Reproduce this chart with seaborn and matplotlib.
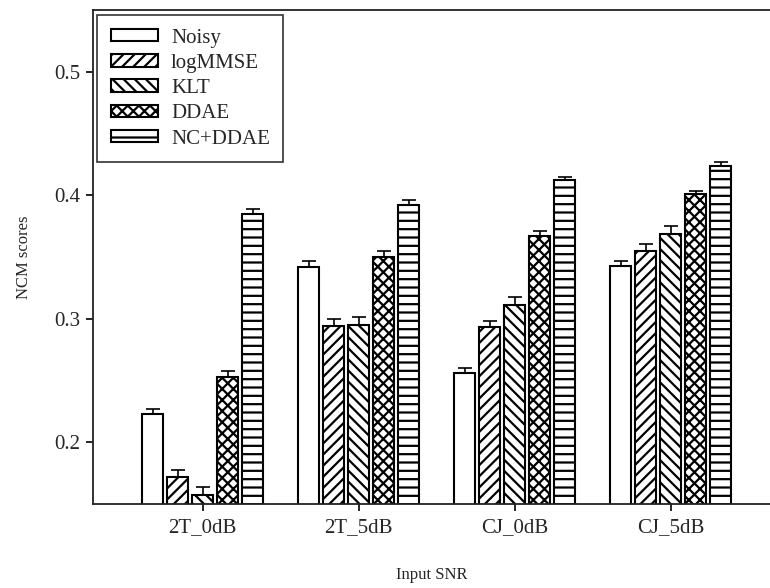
import numpy as np
import pandas as pd
import matplotlib
matplotlib.use("Agg")
import matplotlib.pyplot as plt
import seaborn as sns

# values
groups = ["2T_0dB", "2T_5dB", "CJ_0dB", "CJ_5dB"]
methods = ["Noisy", "logMMSE", "KLT", "DDAE", "NC+DDAE"]

noisy = [0.223, 0.342, 0.256, 0.343]
logmmse = [0.172, 0.294, 0.293, 0.355]
klt = [0.157, 0.295, 0.311, 0.369]
ddae = [0.253, 0.350, 0.367, 0.401]
nc_ddae = [0.385, 0.392, 0.412, 0.424]

noisy_err = [0.0043, 0.0048, 0.0038, 0.0038]
logmmse_err = [0.0054, 0.0060, 0.0054, 0.0057]
klt_err = [0.0065, 0.0068, 0.0067, 0.0062]
ddae_err = [0.0046, 0.0046, 0.0040, 0.0027]
nc_ddae_err = [0.0040, 0.0040, 0.0030, 0.0030]

hatches = ["", "///", "\\\\\\", "xxx", "--"]

rows = []
for m, vals, errs in zip(methods,
                         [noisy, logmmse, klt, ddae, nc_ddae],
                         [noisy_err, logmmse_err, klt_err, ddae_err, nc_ddae_err]):
    for g, v, e in zip(groups, vals, errs):
        rows.append({"snr": g, "method": m, "score": v, "err": e})
df = pd.DataFrame(rows)

sns.set_style("white")
plt.rcParams["font.family"] = ["Liberation Serif", "DejaVu Serif"]
plt.rcParams["hatch.linewidth"] = 1.6
plt.rcParams["hatch.color"] = "black"

fig = plt.figure(figsize=(7.7, 5.88), dpi=100)
ax = fig.add_axes([93 / 770, 84 / 588, 677 / 770, 494 / 588])

sns.barplot(data=df, x="snr", y="score", hue="method", order=groups,
            hue_order=methods, palette=["white"] * 5, errorbar=None,
            width=0.8, gap=0.16, edgecolor="black", linewidth=1.5,
            legend=False, ax=ax)

for cont, h, m in zip(ax.containers, hatches, methods):
    sub = df[df["method"] == m].set_index("snr").loc[groups]
    xs = []
    for bar in cont:
        bar.set_hatch(h)
        bar.set_edgecolor("black")
        xs.append(bar.get_x() + bar.get_width() / 2)
    ax.errorbar(xs, sub["score"].values,
                yerr=[np.zeros(len(groups)), sub["err"].values],
                fmt="none", ecolor="black", elinewidth=1.2, capsize=5,
                capthick=1.2, zorder=1)

ax.set_ylim(0.15, 0.55)
ax.set_xlim(-0.703, 3.637)
ax.set_yticks([0.2, 0.3, 0.4, 0.5])
ax.set_yticklabels(["0.2", "0.3", "0.4", "0.5"])
ax.tick_params(axis="both", direction="out", length=5, width=1.2,
               labelsize=15, color="black", bottom=True, left=True)
ax.tick_params(axis="x", pad=5)
ax.tick_params(axis="y", pad=4)
ax.set_xlabel("Input SNR", fontsize=12, labelpad=22)
ax.set_ylabel("NCM scores", fontsize=12, labelpad=16)

for side in ["left", "top", "bottom"]:
    ax.spines[side].set_color("#222222")
    ax.spines[side].set_linewidth(1.3)
ax.spines["right"].set_visible(False)

leg = ax.legend(ax.containers, methods, loc="upper left",
                bbox_to_anchor=(4 / 677, 1 - 5 / 494), fontsize=15,
                frameon=True, fancybox=False, edgecolor="black",
                handlelength=2.3, handleheight=0.55, handletextpad=0.6,
                labelspacing=0.3, borderpad=0.65, borderaxespad=0)
leg.get_frame().set_linewidth(1.2)

fig.savefig("out.png", dpi=100)
